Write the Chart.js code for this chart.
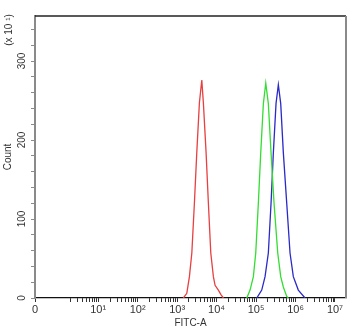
<!DOCTYPE html>
<html>
<head>
<meta charset="utf-8">
<script src="https://cdn.jsdelivr.net/npm/chart.js@4/dist/chart.umd.min.js"></script>
<style>
    html, body { margin: 0; padding: 0; background: #fff; }
    #wrap { width: 350px; height: 331px; }
</style>
</head>
<body>
<div id="wrap"><canvas id="chartHist"></canvas></div>
<script>
// FITC-A intensity (log axis) and counts (x10)
let redX   = [1440, 1760, 2050, 2360, 2740, 3150, 3670, 4220, 4630, 5420, 6200, 7130, 8300, 9160, 11100, 13000, 14900];
let redY   = [0, 6, 27, 57, 120, 184, 247, 276, 247, 184, 120, 57, 27, 16, 10, 4, 0];

let greenX = [58200, 70500, 85500, 98200, 114300, 131500, 153100, 176200, 204800, 239700, 285700, 354300, 421700, 491000, 598400, 657500];
let greenY = [0, 10, 27, 57, 120, 184, 246, 272, 246, 184, 120, 57, 27, 14, 2, 0];

let blueX  = [104200, 139300, 169000, 204800, 239700, 274300, 320600, 367000, 421700, 491000, 598400, 725900, 879500, 1177000, 1741000];
let blueY  = [0, 10, 27, 57, 120, 184, 246, 270, 246, 184, 120, 57, 27, 10, 0];

let xMin = 0.251;
let xMax = 1.9e7;
let xMajor = [10, 100, 1000, 10000, 100000, 1000000, 10000000];
let xMinorMult = [2, 3, 4, 5, 6, 7, 8, 9];
let yTicks = [0, 20, 40, 60, 80, 100, 120, 140, 160, 180, 200, 220, 240, 260, 280, 300, 320, 340];
let yLabelled = [0, 100, 200, 300];

let sup = ['⁰', '¹', '²', '³', '⁴', '⁵', '⁶', '⁷'];
let fonte = 'Liberation Sans, Arial, sans-serif';

function pontos(xs, ys) {
    return xs.map((x, i) => ({ x: x, y: ys[i] }));
}

function montarTicksX() {
    let lista = [{ value: xMin }];
    for (let d = 1; d <= 1000000; d *= 10) {
        xMinorMult.forEach(m => lista.push({ value: m * d }));
    }
    xMajor.forEach(v => lista.push({ value: v }));
    return lista.sort((a, b) => a.value - b.value);
}

const molduraPlugin = {
    id: 'moldura',
    afterDraw(chart) {
        let ctx = chart.ctx;
        let a = chart.chartArea;
        ctx.save();
        ctx.strokeStyle = '#222';
        ctx.lineWidth = 1.5;
        ctx.beginPath();
        ctx.moveTo(a.left, a.top);
        ctx.lineTo(a.right, a.top);
        ctx.stroke();
        ctx.strokeStyle = '#8a8a8a';
        ctx.lineWidth = 2;
        ctx.beginPath();
        ctx.moveTo(a.right, a.top);
        ctx.lineTo(a.right, a.bottom);
        ctx.stroke();

        ctx.fillStyle = '#333';
        ctx.font = '10px ' + fonte;
        ctx.translate(9, 30);
        ctx.rotate(-Math.PI / 2);
        ctx.textAlign = 'center';
        ctx.textBaseline = 'middle';
        ctx.fillText('(x 10 ¹)', 0, 0);
        ctx.restore();
    }
};

new Chart(document.getElementById('chartHist'), {
    type: 'line',
    data: {
        datasets: [
            { label: 'red', data: pontos(redX, redY), borderColor: '#e84040', borderWidth: 1.3 },
            { label: 'green', data: pontos(greenX, greenY), borderColor: '#33dd33', borderWidth: 1.3 },
            { label: 'blue', data: pontos(blueX, blueY), borderColor: '#2a2ac8', borderWidth: 1.3 },
        ]
    },
    options: {
        responsive: true,
        maintainAspectRatio: false,
        animation: false,
        parsing: false,
        elements: { point: { radius: 0 }, line: { tension: 0 } },
        layout: { padding: { top: 16, right: 4, left: 0, bottom: 0 } },
        plugins: {
            legend: { display: false },
            tooltip: { enabled: false }
        },
        scales: {
            x: {
                type: 'logarithmic',
                min: xMin,
                max: xMax,
                afterBuildTicks: s => { s.ticks = montarTicksX(); },
                afterFit: s => { s.height = 33; },
                border: { color: '#111', width: 1.2 },
                grid: { drawOnChartArea: false, drawTicks: true, tickLength: 4, color: '#333' },
                ticks: {
                    autoSkip: false,
                    maxRotation: 0,
                    minRotation: 0,
                    padding: 1,
                    color: '#333',
                    font: { family: fonte, size: 11 },
                    callback: function (v) {
                        if (v === xMin) return '0';
                        let k = Math.round(Math.log10(v));
                        if (xMajor.includes(v)) return '10' + sup[k];
                        return '';
                    }
                },
                title: {
                    display: true,
                    text: 'FITC-A',
                    color: '#333',
                    font: { family: fonte, size: 10 },
                    padding: { top: 0, bottom: 2 }
                }
            },
            y: {
                min: 0,
                max: 357,
                afterBuildTicks: s => { s.ticks = yTicks.map(v => ({ value: v })); },
                afterFit: s => { s.width = 35; },
                border: { color: '#8a8a8a', width: 2 },
                grid: { drawOnChartArea: false, drawTicks: true, tickLength: 4, color: '#8a8a8a' },
                ticks: {
                    autoSkip: false,
                    minRotation: 90,
                    maxRotation: 90,
                    crossAlign: 'center',
                    padding: 0,
                    color: '#333',
                    font: { family: fonte, size: 10 },
                    callback: v => yLabelled.includes(v) ? String(v) : ''
                },
                title: {
                    display: true,
                    text: 'Count',
                    color: '#333',
                    font: { family: fonte, size: 10 },
                    padding: { top: 2, bottom: 0 }
                }
            }
        }
    },
    plugins: [molduraPlugin]
});
</script>
</body>
</html>
